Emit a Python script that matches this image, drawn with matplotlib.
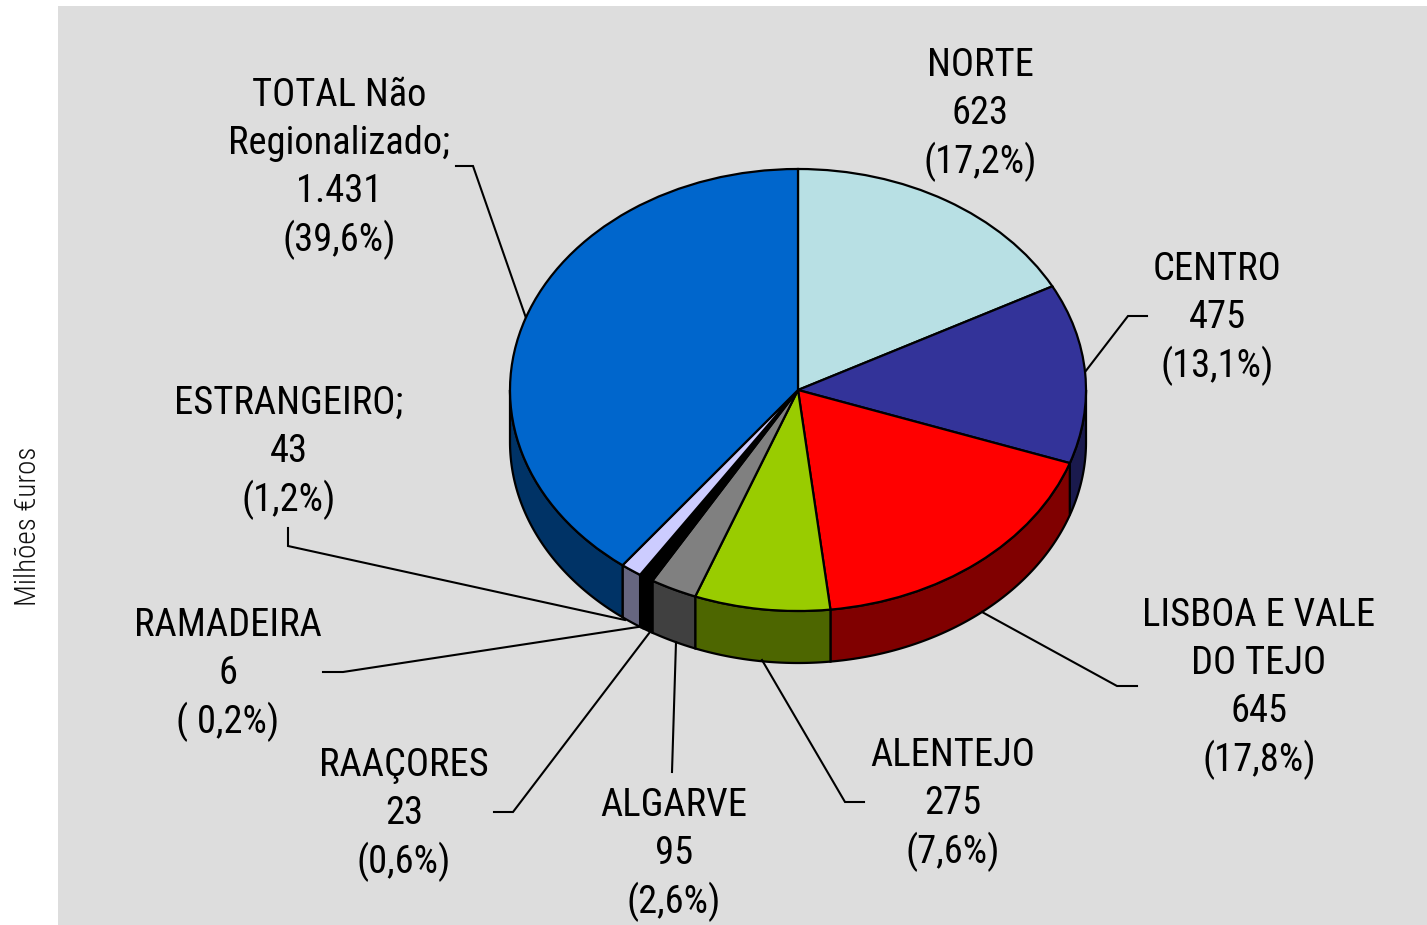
# Pie chart with a fake 3D wall, laid out on the pixel grid of the figure
import numpy as np
import matplotlib
matplotlib.use('Agg')
import matplotlib.pyplot as plt

# Data
regions = ['NORTE', 'CENTRO', 'LISBOA E VALE\nDO TEJO', 'ALENTEJO', 'ALGARVE',
           'RAAÇORES', 'RAMADEIRA', 'ESTRANGEIRO;', 'TOTAL Não\nRegionalizado;']
values = [623, 475, 645, 275, 95, 23, 6, 43, 1431]
value_labels = ['623', '475', '645', '275', '95', '23', '6', '43', '1.431']
percent_labels = ['(17,2%)', '(13,1%)', '(17,8%)', '(7,6%)', '(2,6%)',
                  '(0,6%)', '( 0,2%)', '(1,2%)', '(39,6%)']
top_colors = ['#b8e0e4', '#333399', '#ff0000', '#99cc00', '#808080',
              '#000000', '#000000', '#ccccff', '#0066cc']
wall_colors = ['#5c7072', '#1a1a4d', '#800000', '#4d6600', '#404040',
               '#000000', '#000000', '#666680', '#003366']

# Layout, in pixels of the 1427x925 picture
width, height = 1427, 925
cx, cy, rx, ry, depth = 798, 390, 288, 221, 52
font_px = 38.5
line_step = 48

# x centre and y of the first line of each label
label_pos = [(980, 61), (1217, 265), (1259, 611), (953, 751), (674, 801),
             (404, 761), (228, 621), (289, 399), (339, 91)]

leaders = [
    [(1147, 316), (1128, 316), (1085, 372)],
    [(1137, 686), (1117, 686), (982, 612)],
    [(864, 802), (845, 802), (762, 660)],
    [(672, 772), (676, 642)],
    [(494, 812), (513, 812), (650, 632)],
    [(323, 672), (343, 672), (638, 627)],
    [(288, 528), (288, 546), (625, 620)],
    [(456, 166), (473, 166), (526, 318)],
]

plt.rcParams['font.family'] = ['Roboto Condensed', 'Liberation Sans', 'DejaVu Sans']

fig = plt.figure(figsize=(width / 100, height / 100), dpi=100, facecolor='white')
ax = fig.add_axes([0, 0, 1, 1])
ax.set_xlim(0, width)
ax.set_ylim(height, 0)
ax.axis('off')

ax.add_patch(plt.Rectangle((58, 6), width - 58, height - 6, facecolor='#dddddd', edgecolor='none', zorder=0))

# The walls, only the part of each slice on the front of the pie shows
shares = np.array(values) / sum(values)
edges = np.concatenate([[0], np.cumsum(shares)]) * 2 * np.pi

for i in range(len(values)):
    a0 = max(edges[i], np.pi / 2)
    a1 = min(edges[i + 1], 3 * np.pi / 2)
    if a1 <= a0:
        continue
    t = np.linspace(a0, a1, 80)
    x = cx + rx * np.sin(t)
    y = cy - ry * np.cos(t)
    ax.fill(np.concatenate([x, x[::-1]]), np.concatenate([y, y[::-1] + depth]),
            facecolor=wall_colors[i], edgecolor='black', linewidth=1.6, zorder=1)

# The top of the pie, stretched into an ellipse by its own axes
pie_ax = fig.add_axes([(cx - rx) / width, 1 - (cy + ry) / height, 2 * rx / width, 2 * ry / height])
pie_ax.patch.set_alpha(0)
pie_ax.pie(values, colors=top_colors, startangle=90, counterclock=False, radius=1,
           wedgeprops={'edgecolor': 'black', 'linewidth': 1.6})
pie_ax.set_aspect('auto')
pie_ax.set_xlim(-1, 1)
pie_ax.set_ylim(-1, 1)
for wedge in pie_ax.patches:
    wedge.set_clip_on(False)

for points in leaders:
    ax.plot([p[0] for p in points], [p[1] for p in points], color='black', linewidth=1.5,
            solid_joinstyle='miter', zorder=3)

# Labels, one text per line
for i, name in enumerate(regions):
    lines = name.split('\n') + [value_labels[i], percent_labels[i]]
    x, y = label_pos[i]
    for j, line in enumerate(lines):
        ax.text(x, y + j * line_step, line, ha='center', va='center_baseline',
                fontsize=font_px * 0.72, color='black', fontweight=400)

ax.text(28, 526, 'Milhões €uros', rotation=90, ha='center', va='center', fontsize=21,
        color='#111111', fontweight=300)

fig.savefig('out.png', dpi=100)
